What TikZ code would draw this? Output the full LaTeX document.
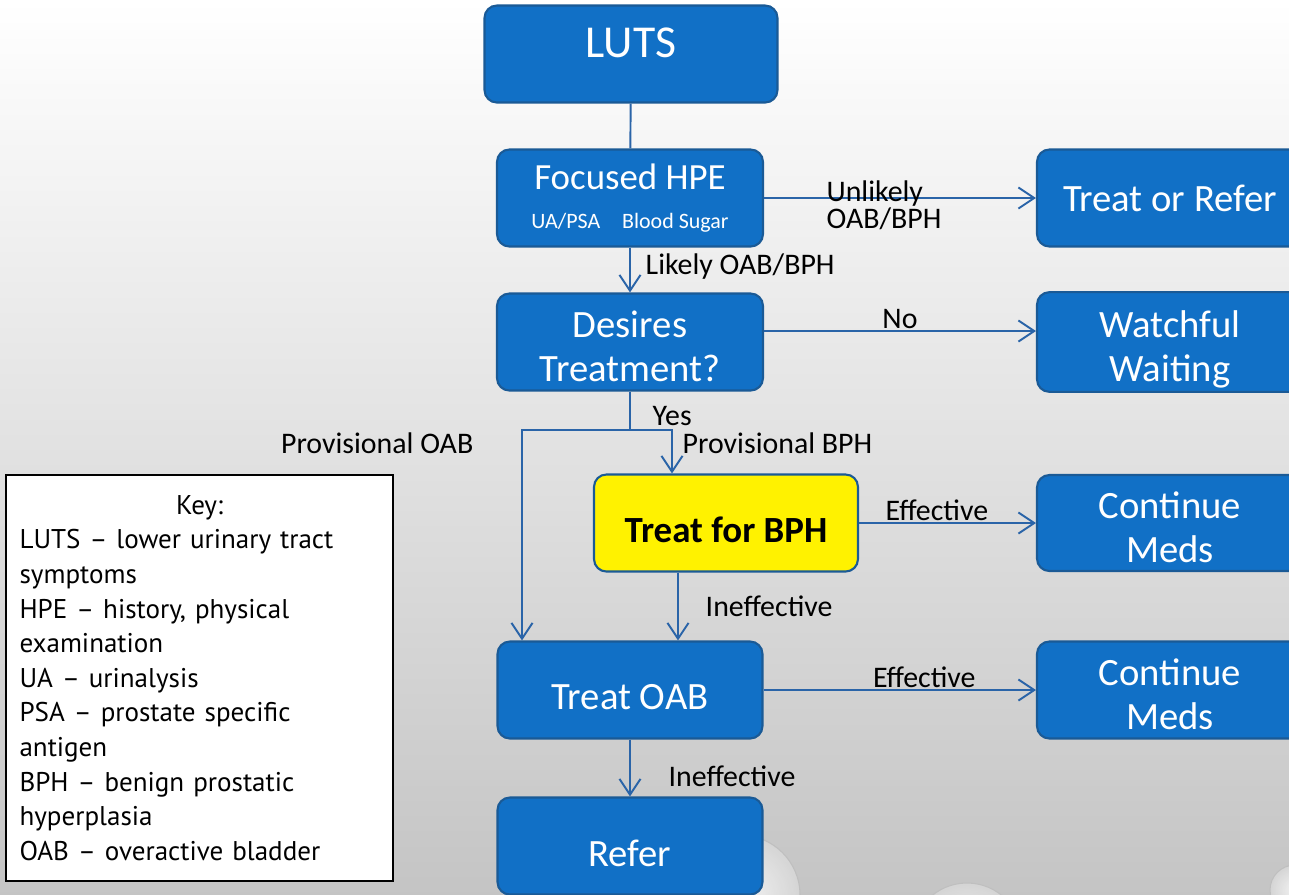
\documentclass[tikz,border=0pt]{standalone}
\usepackage{fontspec}
\setmainfont{Carlito}
\newfontfamily\keyfont{PT Sans}
\usetikzlibrary{arrows.meta, positioning}

\definecolor{boxblue}{HTML}{1170C6}
\definecolor{boxedge}{HTML}{1A5A96}
\definecolor{linkblue}{HTML}{2A64A8}

\begin{document}
\begin{tikzpicture}[
    x=0.02cm, y=-0.02cm,
    >={Straight Barb[length=9pt,width=12pt]},
    % Style for the blue step boxes
    stepbox/.style={
        draw=boxedge, fill=boxblue, line width=1.2pt, rounded corners=7pt,
        text=white, align=center, inner sep=2pt,
        minimum width=5.32cm, minimum height=1.94cm,
        font=\fontsize{22}{25}\selectfont
    },
    % Yellow box for the BPH step
    bphbox/.style={stepbox, fill=yellow, text=black,
        font=\fontsize{21}{24}\selectfont\bfseries},
    % Text sits a little low in most boxes
    sunk/.style={text height=#1},
    link/.style={draw=linkblue, line width=1.1pt},
    lab/.style={font=\fontsize{17}{13}\selectfont, inner sep=1pt, align=left},
    bubble/.style={inner color=white, outer color=gray!30, opacity=0.8}
]

% --- Background ---
\useasboundingbox (0,0) rectangle (1289,894);
\clip (0,0) rectangle (1289,894);
\fill[top color=white, bottom color=black!23] (0,0) rectangle (1289,894);

% --- Bubbles ---
\shade[bubble] (740,895) circle (60);
\draw[gray!50, line width=0.6pt] (740,895) circle (60);
\shade[bubble] (967,938) circle (55);
\draw[gray!50, line width=0.6pt] (967,938) circle (55);
\shade[bubble] (1295,890) circle (25);
\draw[gray!50, line width=0.6pt] (1295,890) circle (25);

% --- Steps ---
\node[stepbox, minimum width=5.86cm, text depth=0.45cm,
      font=\fontsize{26}{30}\selectfont] (luts) at (631,54) {LUTS};
\node[stepbox, font=\fontsize{21}{25}\selectfont] (hpe) at (630,198)
    {Focused HPE\\[-3pt]{\fontsize{12.5}{15}\selectfont UA/PSA\quad Blood Sugar}};
\node[stepbox, sunk=1.6cm] (desires) at (630,342) {Desires\\Treatment?};
\node[bphbox, minimum width=5.28cm, text height=0.78cm, text depth=0pt]
    (bph) at (726,523) {Treat for BPH};
\node[stepbox, minimum width=5.3cm, sunk=0.79cm, text depth=0pt]
    (oab) at (630,690) {Treat OAB};
\node[stepbox, minimum width=5.3cm, sunk=0.82cm, text depth=0pt]
    (refer) at (630,846) {Refer};

% --- Outcomes (cut by the right edge) ---
\node[stepbox] (treatrefer) at (1170,198) {Treat or Refer};
\node[stepbox, sunk=1.72cm] (watchful) at (1170,342) {Watchful\\Waiting};
\node[stepbox, sunk=1.6cm, minimum height=1.92cm] (contbph) at (1170,523)
    {Continue\\Meds};
\node[stepbox, sunk=1.6cm] (contoab) at (1170,690) {Continue\\Meds};

% --- Key ---
\node[draw=black, line width=1.2pt, fill=white, anchor=north west,
      minimum width=7.7cm, minimum height=8.12cm, text width=7.2cm,
      inner xsep=0.27cm, inner ysep=0.2cm, align=left,
      font=\keyfont\fontsize{15.4}{19.7}\selectfont] (key) at (5,474)
    {\makebox[\linewidth][c]{Key:}\\
     LUTS – lower urinary tract\\
     symptoms\\
     HPE – history, physical\\
     examination\\
     UA – urinalysis\\
     PSA – prostate specific\\
     antigen\\
     BPH – benign prostatic\\
     hyperplasia\\
     OAB – overactive bladder};

% --- Connectors ---
\draw[link] (luts) -- (hpe);
\draw[link, ->] (hpe) -- (treatrefer)
    node[lab, pos=0.22, anchor=west, yshift=-0.14cm] {Unlikely\\OAB/BPH};
\draw[link, ->] (hpe) -- (desires)
    node[lab, midway, anchor=west, xshift=0.26cm, yshift=0.06cm] {Likely OAB/BPH};
\draw[link, ->] ([yshift=0.22cm]desires.east) -- ([yshift=0.22cm]watchful.west)
    node[lab, pos=0.5, anchor=south] {No};

% Yes branch splits into provisional OAB / BPH
\coordinate (ysplit) at (630,430);
\coordinate (bphturn) at (672,430);
\coordinate (oabturn) at (522,430);
\draw[link] (desires) -- (ysplit)
    node[lab, midway, anchor=west, xshift=0.4cm, yshift=-0.1cm] {Yes};
\draw[link, ->] (ysplit) -- (bphturn) -- (bphturn |- bph.north)
    node[lab, pos=0, anchor=north west, xshift=0.16cm] {Provisional BPH};
\draw[link, ->] (ysplit) -- (oabturn) -- (oabturn |- oab.north)
    node[lab, pos=0, anchor=north east, xshift=-0.92cm] {Provisional OAB};

\draw[link, ->] (bph) -- (contbph)
    node[lab, pos=0.44, above] {Effective};
\coordinate (bphdown) at ([xshift=-0.96cm]bph.south);
\draw[link, ->] (bphdown) -- (bphdown |- oab.north)
    node[lab, midway, anchor=west, xshift=0.5cm] {Ineffective};

\draw[link, ->] (oab) -- (contoab)
    node[lab, pos=0.59, above] {Effective};
\draw[link, ->] (oab) -- (refer)
    node[lab, midway, anchor=west, xshift=0.72cm, yshift=-0.16cm] {Ineffective};

\end{tikzpicture}
\end{document}
